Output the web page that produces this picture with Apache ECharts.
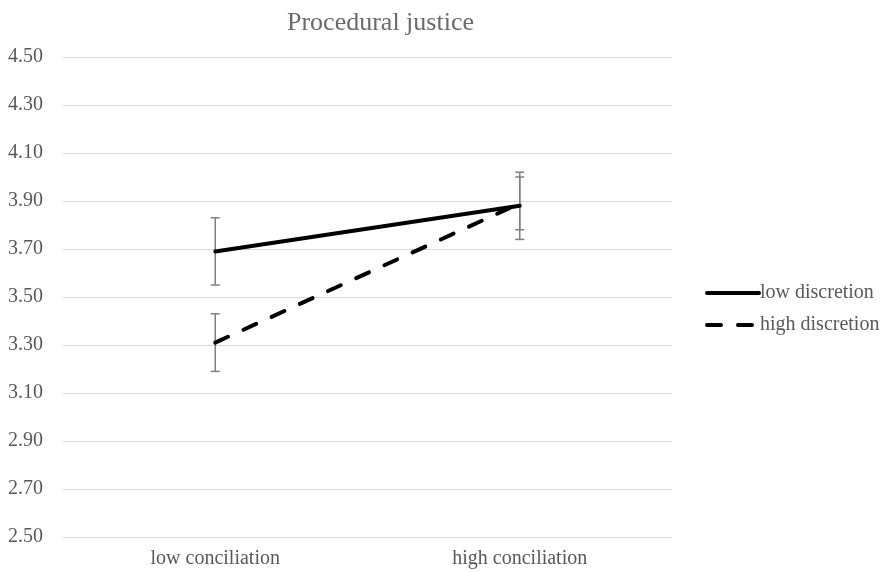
<!DOCTYPE html>
<html><head><meta charset="utf-8">
<script src="https://cdn.jsdelivr.net/npm/echarts@6/dist/echarts.min.js"></script>
<style>html,body{margin:0;padding:0;background:#fff}#c{width:884px;height:572px}</style>
</head><body><div id="c"></div>
<script>
var categories = ['low conciliation', 'high conciliation'];
var lowDiscretion = [3.69, 3.88];
var lowDiscretionErr = [0.14, 0.14];
var highDiscretion = [3.31, 3.89];
var highDiscretionErr = [0.12, 0.11];
var yTicks = ['2.50','2.70','2.90','3.10','3.30','3.50','3.70','3.90','4.10','4.30','4.50'];

var font = '"Liberation Serif", "Times New Roman", serif';
var txt = '#595959';

function errData(vals, errs) {
  return vals.map(function (v, i) { return [i, v - errs[i], v + errs[i]]; });
}
function errSeries(vals, errs) {
  return {
    type: 'custom',
    z: 1,
    silent: true,
    data: errData(vals, errs),
    renderItem: function (params, api) {
      var x = api.value(0);
      var lo = api.coord([x, api.value(1)]);
      var hi = api.coord([x, api.value(2)]);
      var w = 4.5;
      var st = { stroke: '#808080', lineWidth: 1.5 };
      return {
        type: 'group',
        children: [
          { type: 'line', shape: { x1: hi[0], y1: hi[1], x2: lo[0], y2: lo[1] }, style: st },
          { type: 'line', shape: { x1: hi[0] - w, y1: hi[1], x2: hi[0] + w, y2: hi[1] }, style: st },
          { type: 'line', shape: { x1: lo[0] - w, y1: lo[1], x2: lo[0] + w, y2: lo[1] }, style: st }
        ]
      };
    }
  };
}

var chart = echarts.init(document.getElementById('c'));
chart.setOption({
  animation: false,
  backgroundColor: '#fff',
  title: {
    text: 'Procedural justice',
    left: 282, top: 5,
    textStyle: { fontFamily: font, fontSize: 26, fontWeight: 'normal', color: '#6a6a6a' }
  },
  grid: { left: 63, right: 212, top: 57, bottom: 35, containLabel: false },
  legend: {
    orient: 'vertical',
    left: 700, top: 278,
    itemWidth: 52, itemHeight: 20, itemGap: 12,
    itemStyle: { opacity: 0 },
    lineStyle: { width: 4 },
    textStyle: { fontFamily: font, fontSize: 20, color: txt, padding: [0, 0, 0, -4] },
    data: ['low discretion', 'high discretion']
  },
  xAxis: {
    type: 'category',
    data: categories,
    boundaryGap: true,
    axisLine: { show: false },
    axisTick: { show: false },
    axisLabel: { fontFamily: font, fontSize: 20, color: txt, margin: 12 }
  },
  yAxis: {
    type: 'value',
    min: 2.5, max: 4.5, interval: 0.2,
    axisLine: { show: false },
    axisTick: { show: false },
    splitLine: { lineStyle: { color: '#d9d9d9', width: 1 } },
    axisLabel: {
      fontFamily: font, fontSize: 20, color: txt, margin: 20,
      formatter: function (v) {
        var s = v.toFixed(2);
        return yTicks.indexOf(s) >= 0 ? s : '';
      }
    }
  },
  series: [
    {
      name: 'low discretion', type: 'line', data: lowDiscretion,
      symbol: 'none', z: 3,
      lineStyle: { color: '#000', width: 4, cap: 'round' },
      itemStyle: { color: '#000' }
    },
    {
      name: 'high discretion', type: 'line', data: highDiscretion,
      symbol: 'none', z: 3,
      lineStyle: { color: '#000', width: 4, type: [14, 17], cap: 'round' },
      itemStyle: { color: '#000' }
    },
    errSeries(lowDiscretion, lowDiscretionErr),
    errSeries(highDiscretion, highDiscretionErr)
  ]
});
</script>
</body></html>
